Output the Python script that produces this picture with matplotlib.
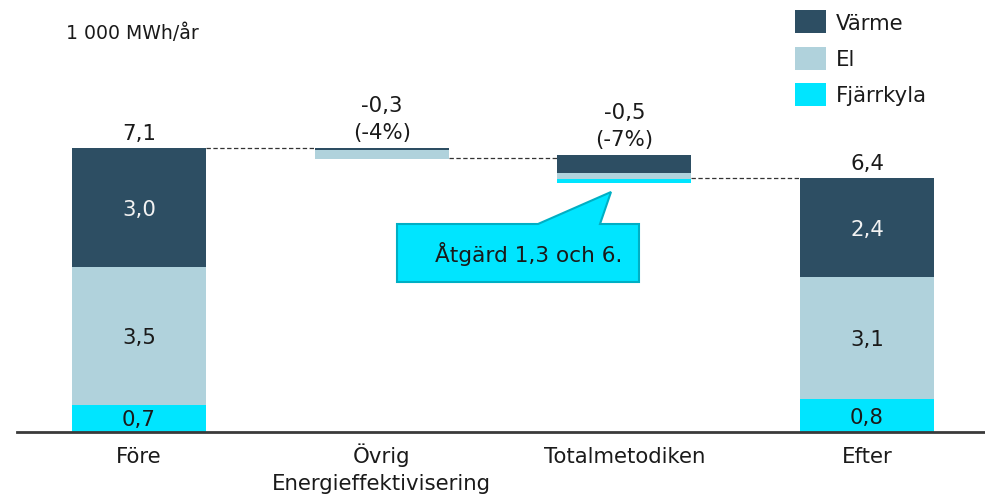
import matplotlib
matplotlib.use("Agg")
import matplotlib.pyplot as plt
from matplotlib.patches import Polygon, Rectangle

# ---- data (1 000 MWh/år) ----
categories = ["Före", "Övrig\nEnergieffektivisering", "Totalmetodiken", "Efter"]
bottoms = [0.0, 6.825, 6.225, 0.0]
fjarrkyla = [0.675, 0.0, 0.10, 0.825]
el = [3.45, 0.225, 0.15, 3.05]
varme = [2.975, 0.05, 0.45, 2.475]
seg_labels_fore = ["0,7", "3,5", "3,0"]
seg_labels_efter = ["0,8", "3,1", "2,4"]
total_labels = {0: "7,1", 3: "6,4"}
change_labels = {1: ("-0,3", "(-4%)"), 2: ("-0,5", "(-7%)")}
connector_levels = [7.1, 6.84, 6.35]
series_names = ["Värme", "El", "Fjärrkyla"]
unit_label = "1 000 MWh/år"
callout_text = "Åtgärd 1,3 och 6."

C_VARME = "#2D4E63"
C_EL = "#B0D2DC"
C_FK = "#00E5FF"
C_TXT = "#1A1A1A"

W, H = 985, 495
fig = plt.figure(figsize=(W / 100, H / 100), dpi=100)
plt.rcParams["font.family"] = ["DejaVu Sans"]

def fx(px):
    return px / W

def fy(py):
    return 1 - py / H

ax = fig.add_axes([fx(17), 63 / H, (W - 17) / W, 432 / H])
ax.set_xlim(-0.503, 3.486)
ax.set_ylim(0, 10.8)
for s in ["top", "right", "left"]:
    ax.spines[s].set_visible(False)
ax.spines["bottom"].set_linewidth(2)
ax.spines["bottom"].set_color("#3A3A3A")
ax.set_yticks([])
ax.set_xticks([])

x = list(range(len(categories)))
bw = 0.552
b1 = [b + f for b, f in zip(bottoms, fjarrkyla)]
b2 = [b + e for b, e in zip(b1, el)]
ax.bar(x, fjarrkyla, bw, bottom=bottoms, color=C_FK, linewidth=0)
ax.bar(x, el, bw, bottom=b1, color=C_EL, linewidth=0)
ax.bar(x, varme, bw, bottom=b2, color=C_VARME, linewidth=0)
tops = [b + v for b, v in zip(b2, varme)]

# connectors
for i, lvl in enumerate(connector_levels):
    ax.plot([x[i] + bw / 2, x[i + 1] - bw / 2], [lvl, lvl], color="#333333",
            lw=0.9, linestyle=(0, (3.5, 2)))

FS = 15.3
# segment labels
for idx, labs in ((0, seg_labels_fore), (3, seg_labels_efter)):
    segs = [(bottoms[idx], fjarrkyla[idx]), (b1[idx], el[idx]), (b2[idx], varme[idx])]
    for (bot, h), lab, col in zip(segs, labs, [C_TXT, C_TXT, "#F2F2F2"]):
        ax.text(x[idx], bot + h / 2, lab, ha="center", va="center_baseline",
                fontsize=FS, color=col)

for idx, lab in total_labels.items():
    ax.text(x[idx], tops[idx] + 0.2, lab, ha="center", va="baseline",
            fontsize=FS, color=C_TXT)
for idx, (l1, l2) in change_labels.items():
    ax.text(x[idx], tops[idx] + 0.22, l2, ha="center", va="baseline",
            fontsize=FS, color=C_TXT)
    ax.text(x[idx], tops[idx] + 0.9, l1, ha="center", va="baseline",
            fontsize=FS, color=C_TXT)

# category labels
for i, cat in enumerate(categories):
    for j, line in enumerate(cat.split("\n")):
        ax.text(x[i], -0.78 - j * 0.68, line, ha="center", va="baseline",
                fontsize=FS, color=C_TXT, clip_on=False)

# unit label
fig.text(fx(66), fy(39), unit_label, fontsize=13.6, color=C_TXT, va="baseline")

# legend
for k, (name, col) in enumerate(zip(series_names, [C_VARME, C_EL, C_FK])):
    top = 10 + k * 36.5
    fig.add_artist(Rectangle((fx(795), fy(top + 23)), fx(31), 23 / H,
                             transform=fig.transFigure, facecolor=col, lw=0))
    fig.text(fx(836), fy(top + 11.5), name, fontsize=FS, color=C_TXT,
             va="center_baseline")

# callout
pts = [(397, 224), (538, 224), (611, 192), (600, 224), (639, 224), (639, 282), (397, 282)]
fig.add_artist(Polygon([(fx(a), fy(b)) for a, b in pts], closed=True,
                       transform=fig.transFigure, facecolor=C_FK,
                       edgecolor="#00AFC4", lw=1.5))
fig.text(fx(435), fy(262.5), callout_text, fontsize=15.6, color=C_TXT, va="baseline")

fig.savefig("out.png", dpi=100)
